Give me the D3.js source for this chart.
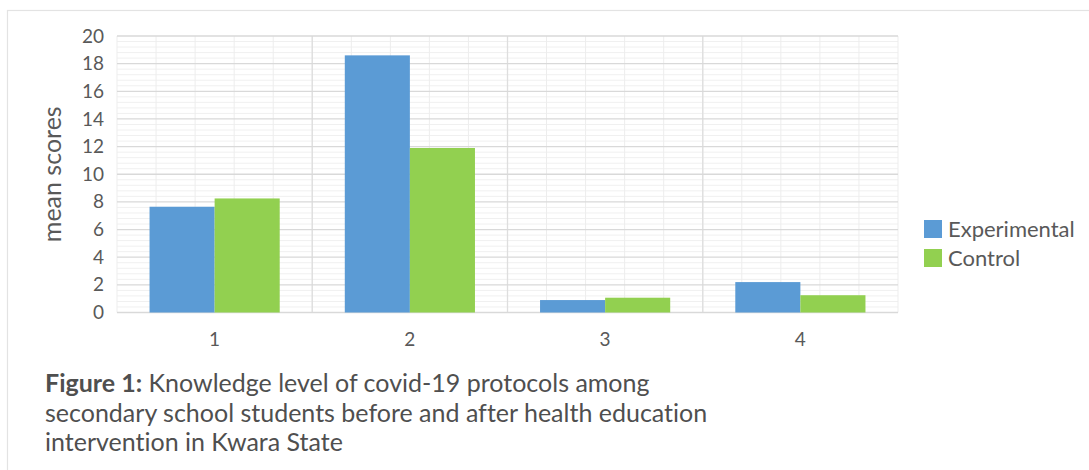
<!DOCTYPE html>
<html>
<head>
<meta charset="utf-8">
<script src="https://cdn.jsdelivr.net/npm/d3@7/dist/d3.min.js"></script>
<style>
  html, body { margin: 0; padding: 0; background: #fff; }
  svg { display: block; }
  text { font-family: Lato, "Open Sans", sans-serif; font-variant-ligatures: none; }
</style>
</head>
<body>
<svg id="chart" width="1089" height="470"></svg>
<script>
const categories = ["1", "2", "3", "4"];
const seriesNames = ["Experimental", "Control"];
const experimental = [7.65, 18.6, 0.9, 2.2];
const control = [8.25, 11.9, 1.07, 1.25];
const yTicks = [0, 2, 4, 6, 8, 10, 12, 14, 16, 18, 20];
const yLabel = "mean scores";
const captionBold = "Figure 1:";
const captionLines = [
  " Knowledge level of covid-19 protocols among",
  "secondary school students before and after health education",
  "intervention in Kwara State"
];
const colors = ["#5b9bd5", "#92d050"];

const W = 1089, H = 470;
const svg = d3.select("#chart");
const plot = { left: 117, right: 898, top: 36, bottom: 312.5 };

// outer frame
svg.append("rect")
  .attr("x", 7.5).attr("y", 10.5)
  .attr("width", W).attr("height", H)
  .attr("fill", "none").attr("stroke", "#e3e3e3").attr("stroke-width", 1.2);

const x0 = d3.scaleBand().domain(categories).range([plot.left, plot.right]).paddingInner(0).paddingOuter(0);
const x1 = d3.scaleBand().domain(seriesNames).range([0, x0.bandwidth()]).paddingOuter(0.5).paddingInner(0);
const y = d3.scaleLinear().domain([0, 20]).range([plot.bottom, plot.top]);

const grid = svg.append("g");
// minor horizontal gridlines
const minorY = d3.range(0, 20.001, 0.4).filter(v => Math.abs(v / 2 - Math.round(v / 2)) > 1e-6);
grid.selectAll("line.minh").data(minorY).join("line")
  .attr("x1", plot.left).attr("x2", plot.right)
  .attr("y1", d => y(d)).attr("y2", d => y(d))
  .attr("stroke", "#f0f0f0").attr("stroke-width", 1);
// minor vertical gridlines
const minorX = [];
categories.forEach(c => { for (let k = 0; k <= 5; k++) minorX.push(x0(c) + k * x0.bandwidth() / 5); });
grid.selectAll("line.minv").data(minorX).join("line")
  .attr("x1", d => d).attr("x2", d => d)
  .attr("y1", plot.top).attr("y2", plot.bottom)
  .attr("stroke", "#ededed").attr("stroke-width", 1);
// major vertical gridlines (category boundaries)
grid.selectAll("line.majv").data(categories.slice(1)).join("line")
  .attr("x1", d => x0(d)).attr("x2", d => x0(d))
  .attr("y1", plot.top).attr("y2", plot.bottom)
  .attr("stroke", "#dedede").attr("stroke-width", 1.3);
// major horizontal gridlines
grid.selectAll("line.majh").data(yTicks).join("line")
  .attr("x1", plot.left).attr("x2", plot.right)
  .attr("y1", d => y(d)).attr("y2", d => y(d))
  .attr("stroke", "#d9d9d9").attr("stroke-width", 1.3);

// bars
const data = categories.map((c, i) => ({ cat: c, values: [experimental[i], control[i]] }));
const groups = svg.append("g").selectAll("g").data(data).join("g")
  .attr("transform", d => `translate(${x0(d.cat)},0)`);
groups.selectAll("rect").data(d => d.values.map((v, j) => ({ v, s: seriesNames[j], j })))
  .join("rect")
  .attr("x", d => x1(d.s))
  .attr("width", x1.bandwidth())
  .attr("y", d => y(d.v))
  .attr("height", d => y(0) - y(d.v))
  .attr("fill", d => colors[d.j]);

// y axis
const yAxis = d3.axisLeft(y).tickValues(yTicks).tickSize(0).tickPadding(13);
const yg = svg.append("g").attr("transform", `translate(${plot.left},0)`).call(yAxis);
yg.select(".domain").remove();
yg.selectAll("text").attr("font-size", 19).attr("fill", "#595959").attr("font-family", "Lato");

// x axis
const xAxis = d3.axisBottom(x0).tickSize(0).tickPadding(20);
const xg = svg.append("g").attr("transform", `translate(0,${plot.bottom})`).call(xAxis);
xg.select(".domain").remove();
xg.selectAll("text").attr("font-size", 19).attr("fill", "#595959").attr("font-family", "Lato");

// y label
svg.append("text")
  .attr("transform", `translate(61,${(plot.top + plot.bottom) / 2}) rotate(-90)`)
  .attr("text-anchor", "middle")
  .attr("font-size", 25).attr("fill", "#595959")
  .text(yLabel);

// legend
const leg = svg.append("g").attr("transform", "translate(924,220)");
seriesNames.forEach((s, i) => {
  leg.append("rect").attr("x", 0).attr("y", i * 29).attr("width", 18).attr("height", 18).attr("fill", colors[i]);
  leg.append("text").attr("x", 24).attr("y", i * 29 + 16.5)
    .attr("font-size", 22).attr("fill", "#595959").text(s);
});

// caption
const cap = svg.append("g");
captionLines.forEach((line, i) => {
  const t = cap.append("text").attr("x", 45).attr("y", 392 + i * 29.7)
    .attr("font-size", 25).attr("fill", "#4f4f4f");
  if (i === 0) t.append("tspan").attr("font-weight", "bold").text(captionBold);
  t.append("tspan").text(line);
});
</script>
</body>
</html>
